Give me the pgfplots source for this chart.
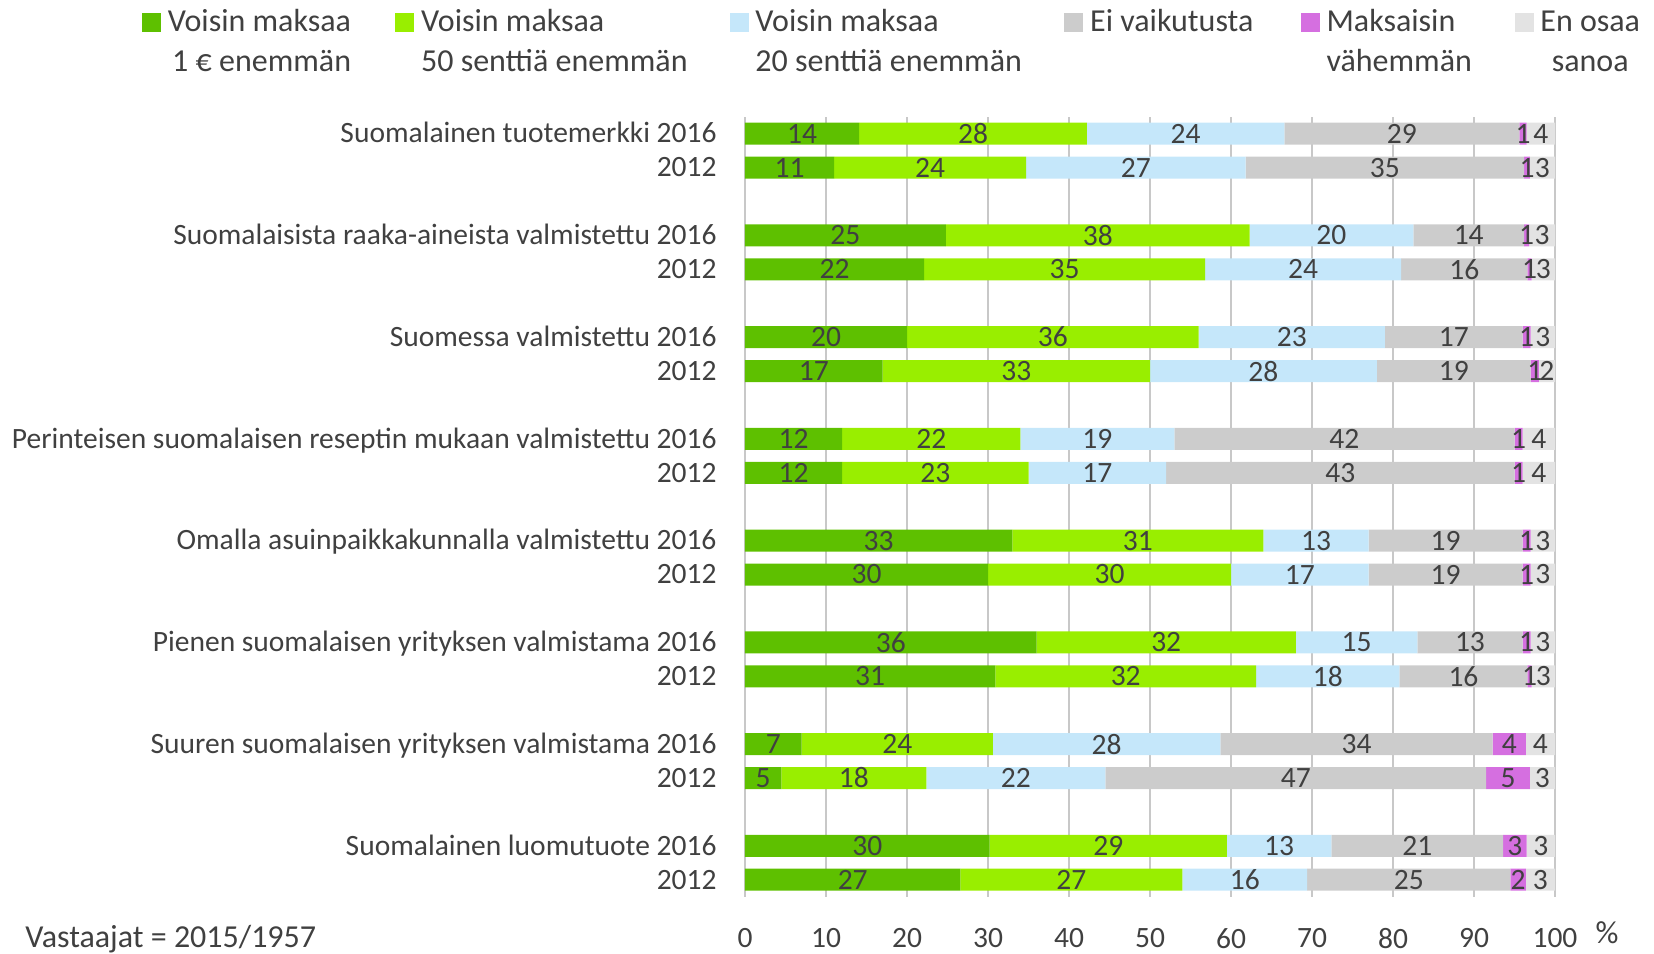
\documentclass[border=0pt]{standalone}
\usepackage{pgfplots}
\pgfplotsset{compat=1.18}
\usepackage{pgfplotstable}
\usepackage{fontspec}
\setmainfont{Carlito}
\definecolor{cA}{HTML}{5EC000}
\definecolor{cB}{HTML}{99EE00}
\definecolor{cC}{HTML}{C5E7FA}
\definecolor{cD}{HTML}{CCCCCC}
\definecolor{cE}{HTML}{D56FE0}
\definecolor{cF}{HTML}{E3E3E3}
\definecolor{txt}{HTML}{404040}
\definecolor{gridc}{HTML}{C8C8C8}
\newcommand\axfont{\fontsize{14.75}{17.5}\selectfont}
\newcommand\legfont{\fontsize{16}{20}\selectfont}
\newcommand\leg[4]{\makebox[#1][l]{\begin{tabular}[t]{@{}#2@{}}#3\\#4\end{tabular}}}
\pgfplotsset{legsq/.style={legend image code/.code={\fill[#1] (0pt,0.3pt) rectangle (9pt,9.3pt); \path (12.5pt,0pt);}}}

\pgfplotstableread{
y a b c d e f la lb lc ld le lf
0 14.1 28.1 24.4 29.0 0.9 3.5 14 28 24 29 1 4
-1 11.0 23.7 27.1 34.4 0.7 3.1 11 24 27 35 1 3
-3 24.8 37.5 20.2 13.7 0.6 3.2 25 38 20 14 1 3
-4 22.1 34.7 24.2 15.6 0.5 2.9 22 35 24 16 1 3
-6 20 36 23 17 1 3 20 36 23 17 1 3
-7 17 33 28 19 1 2 17 33 28 19 1 2
-9 12 22 19 42 1 4 12 22 19 42 1 4
-10 12 23 17 43 1 4 12 23 17 43 1 4
-12 33 31 13 19 1 3 33 31 13 19 1 3
-13 30 30 17 19 1 3 30 30 17 19 1 3
-15 36 32 15 13 1 3 36 32 15 13 1 3
-16 30.9 32.2 17.7 15.8 0.5 2.9 31 32 18 16 1 3
-18 7.0 23.6 28.1 33.6 4.1 3.6 7 24 28 34 4 4
-19 4.5 17.9 22.1 47.0 5.4 3.1 5 18 22 47 5 3
-21 30.2 29.3 12.9 21.2 2.9 3.5 30 29 13 21 3 3
-22 26.6 27.4 15.4 25.1 1.9 3.6 27 27 16 25 2 3
}\data
\pgfplotstablecreatecol[create col/expr={\thisrow{a}/2}]{ma}\data
\pgfplotstablecreatecol[create col/expr={\thisrow{a}+\thisrow{b}/2}]{mb}\data
\pgfplotstablecreatecol[create col/expr={\thisrow{a}+\thisrow{b}+\thisrow{c}/2}]{mc}\data
\pgfplotstablecreatecol[create col/expr={\thisrow{a}+\thisrow{b}+\thisrow{c}+\thisrow{d}/2}]{md}\data
\pgfplotstablecreatecol[create col/expr={\thisrow{a}+\thisrow{b}+\thisrow{c}+\thisrow{d}+\thisrow{e}/2}]{me}\data
\pgfplotstablecreatecol[create col/expr={\thisrow{a}+\thisrow{b}+\thisrow{c}+\thisrow{d}+\thisrow{e}+\thisrow{f}/2}]{mf}\data

\begin{document}
\begin{tikzpicture}
\useasboundingbox (0,0) rectangle (827pt,476.5pt);
\begin{axis}[
  at={(372.5pt,28.15pt)}, anchor=south west,
  scale only axis, width=405pt, height=390pt,
  xmin=0, xmax=100, ymin=-22.5, ymax=0.5,
  stack plots=x, bar width=11pt,
  xtick={0,10,...,100},
  ytick={-22,-21,-19,-18,-16,-15,-13,-12,-10,-9,-7,-6,-4,-3,-1,0},
  yticklabels={2012,Suomalainen luomutuote 2016,2012,Suuren suomalaisen yrityksen valmistama 2016,2012,Pienen suomalaisen yrityksen valmistama 2016,2012,Omalla asuinpaikkakunnalla valmistettu 2016,2012,Perinteisen suomalaisen reseptin mukaan valmistettu 2016,2012,Suomessa valmistettu 2016,2012,Suomalaisista raaka-aineista valmistettu 2016,2012,Suomalainen tuotemerkki 2016},
  xmajorgrids=true, ymajorgrids=false,
  grid style={color=gridc, line width=0.75pt},
  axis line style={draw=none},
  major tick length=0pt, tick style={draw=none},
  ticklabel style={font=\axfont, text=txt},
  /pgf/number format/assume math mode=true,
  xticklabel style={anchor=north, inner sep=0pt, yshift=-15.5pt},
  yticklabel style={anchor=east, inner sep=0pt, xshift=-14pt, yshift=-1.5pt, text height=0.8em, text depth=0.17em},
  legend columns=6,
  legend style={at={(axis description cs:-0.74444,1.1445)}, anchor=north west,
    draw=none, fill=none, inner sep=0pt, outer sep=0pt, column sep=0pt, row sep=0pt,
    font=\legfont, text=txt, cells={anchor=base west}, nodes={inner sep=0pt}},
]
\addlegendimage{legsq=cA}
\addlegendentry{\leg{113.75pt}{r}{Voisin maksaa}{1 € enemmän}}
\addlegendimage{legsq=cB}
\addlegendentry{\leg{154.25pt}{l}{Voisin maksaa}{50 senttiä enemmän}}
\addlegendimage{legsq=cC}
\addlegendentry{\leg{154.5pt}{l}{Voisin maksaa}{20 senttiä enemmän}}
\addlegendimage{legsq=cD}
\addlegendentry{\leg{105.3pt}{l}{Ei vaikutusta}{}}
\addlegendimage{legsq=cE}
\addlegendentry{\leg{94pt}{l}{Maksaisin}{vähemmän}}
\addlegendimage{legsq=cF}
\addlegendentry{\leg{50pt}{c}{En osaa}{sanoa}}

\addplot[xbar, bar shift=0pt, fill=cA, draw=none, forget plot] table[x=a, y=y] {\data};
\addplot[xbar, bar shift=0pt, fill=cB, draw=none, forget plot] table[x=b, y=y] {\data};
\addplot[xbar, bar shift=0pt, fill=cC, draw=none, forget plot] table[x=c, y=y] {\data};
\addplot[xbar, bar shift=0pt, fill=cD, draw=none, forget plot] table[x=d, y=y] {\data};
\addplot[xbar, bar shift=0pt, fill=cE, draw=none, forget plot] table[x=e, y=y] {\data};
\addplot[xbar, bar shift=0pt, fill=cF, draw=none, forget plot] table[x=f, y=y] {\data};

\pgfplotsset{lbl/.style={stack plots=false, only marks, mark=none, forget plot,
  point meta=explicit symbolic, nodes near coords, nodes near coords align=center,
  every node near coord/.append style={anchor=center, font=\axfont, text=txt, inner sep=0pt}}}
\addplot[lbl] table[x=ma, y=y, meta=la] {\data};
\addplot[lbl] table[x=mb, y=y, meta=lb] {\data};
\addplot[lbl] table[x=mc, y=y, meta=lc] {\data};
\addplot[lbl] table[x=md, y=y, meta=ld] {\data};
\addplot[lbl] table[x=me, y=y, meta=le] {\data};
\addplot[lbl] table[x=mf, y=y, meta=lf] {\data};
\end{axis}
\node[anchor=base west, inner sep=0pt, font=\legfont, text=txt] at (12.5pt,3pt) {Vastaajat = 2015/1957};
\node[anchor=base, inner sep=0pt, font=\legfont, text=txt] at (803.5pt,5pt) {\%};
\end{tikzpicture}
\end{document}
